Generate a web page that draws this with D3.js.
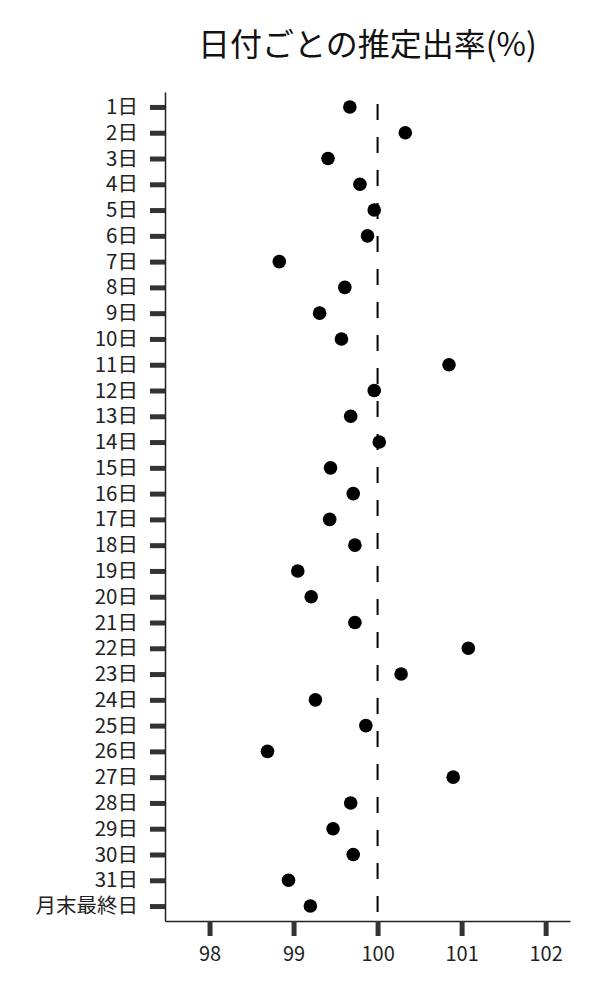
<!DOCTYPE html>
<html>
<head>
<meta charset="utf-8">
<script src="https://cdn.jsdelivr.net/npm/d3@7"></script>
<style>
  body { margin: 0; background: #fff; }
  text { font-family: "Noto Sans CJK JP", "Noto Sans", sans-serif; }
</style>
</head>
<body>
<div id="chart"></div>
<script>
// estimated rate (%) per day of month
var days = ["1日","2日","3日","4日","5日","6日","7日","8日","9日","10日",
    "11日","12日","13日","14日","15日","16日","17日","18日","19日","20日",
    "21日","22日","23日","24日","25日","26日","27日","28日","29日","30日",
    "31日","月末最終日"];
var rates = [99.67, 100.33, 99.41, 99.79, 99.96, 99.88, 98.83, 99.61, 99.31, 99.57,
    100.85, 99.96, 99.68, 100.02, 99.44, 99.71, 99.43, 99.73, 99.05, 99.21,
    99.73, 101.08, 100.28, 99.26, 99.86, 98.69, 100.90, 99.68, 99.47, 99.71,
    98.94, 99.20];
var xTicks = [98, 99, 100, 101, 102];
var refValue = 100;
var chartTitle = "日付ごとの推定出率(%)";

var svgW = 600, svgH = 1000;
var plotLeft = 165, plotRight = 570, plotTop = 92, plotBottom = 921;

function drawChart() {
    var svg = d3.select("#chart").append("svg")
        .attr("width", svgW)
        .attr("height", svgH);

    var x = d3.scaleLinear()
        .domain([97.47, 102.29])
        .range([plotLeft, plotRight]);

    var y = d3.scalePoint()
        .domain(days)
        .range([plotTop, plotBottom])
        .padding(0.58);

    // title
    svg.append("text")
        .attr("x", (plotLeft + plotRight) / 2)
        .attr("y", 56)
        .attr("text-anchor", "middle")
        .style("font-size", "32px")
        .style("fill", "#111")
        .text(chartTitle);

    // x axis
    var xAxis = svg.append("g")
        .attr("transform", "translate(0," + plotBottom + ")")
        .call(d3.axisBottom(x).tickValues(xTicks).tickFormat(d3.format("d"))
            .tickSize(15).tickPadding(11).tickSizeOuter(0));
    xAxis.select(".domain").attr("stroke", "#222").attr("stroke-width", 1.5);
    xAxis.selectAll(".tick line").attr("stroke", "#333").attr("stroke-width", 5);
    xAxis.selectAll(".tick text")
        .attr("font-size", 20)
        .attr("fill", "#222")
        .attr("font-family", "'Noto Sans CJK JP', sans-serif");

    // y axis
    var yAxis = svg.append("g")
        .attr("transform", "translate(" + plotLeft + ",0)")
        .call(d3.axisLeft(y).tickSize(15).tickPadding(12).tickSizeOuter(0));
    yAxis.select(".domain").attr("stroke", "#222").attr("stroke-width", 1.5);
    yAxis.selectAll(".tick line").attr("stroke", "#333").attr("stroke-width", 5);
    yAxis.selectAll(".tick text")
        .attr("font-size", 20.5)
        .attr("fill", "#222")
        .attr("font-family", "'Noto Sans CJK JP', sans-serif");

    // reference line at 100
    svg.append("line")
        .attr("x1", x(refValue))
        .attr("x2", x(refValue))
        .attr("y1", y(days[0]) - 3)
        .attr("y2", plotBottom)
        .attr("stroke", "#000")
        .attr("stroke-width", 2)
        .attr("stroke-dasharray", "16,17");

    // dots
    svg.append("g").selectAll("circle")
        .data(rates)
        .enter().append("circle")
        .attr("cx", function(d) { return x(d); })
        .attr("cy", function(d, i) { return y(days[i]); })
        .attr("r", 6.8)
        .attr("fill", "#000");
}

drawChart();
</script>
</body>
</html>
